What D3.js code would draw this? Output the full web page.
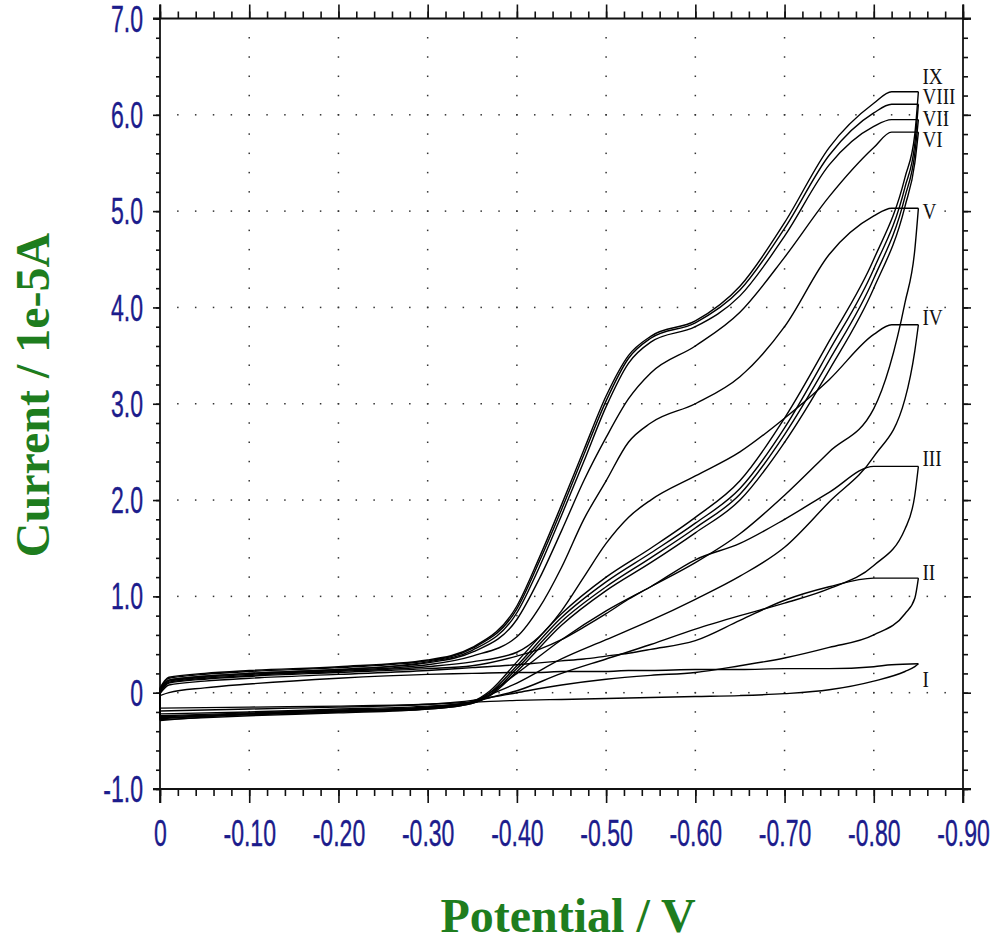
<!DOCTYPE html>
<html>
<head>
<meta charset="utf-8">
<script src="https://cdn.jsdelivr.net/npm/d3@7"></script>
<style>
  html, body { margin: 0; padding: 0; background: #fff; }
  svg { display: block; }
</style>
</head>
<body>
<div id="cvChart"></div>
<script>
// potentials (V) at which currents were read, forward and return sweep
const potentialFwd = [0, -0.01, -0.05, -0.10, -0.20, -0.30, -0.35, -0.40, -0.425, -0.45, -0.475, -0.50, -0.525, -0.55, -0.60, -0.65, -0.70, -0.75, -0.80, -0.82, -0.85];
const potentialRev = [-0.85, -0.846, -0.835, -0.80, -0.75, -0.70, -0.65, -0.60, -0.55, -0.50, -0.45, -0.40, -0.37, -0.35, -0.30, -0.20, -0.10, 0];

// currents (1e-5 A), forward sweep
const fwdI    = [-0.03, 0.00, 0.05, 0.09, 0.15, 0.19, 0.20, 0.21, 0.21, 0.22, 0.22, 0.22, 0.23, 0.23, 0.24, 0.24, 0.25, 0.25, 0.27, 0.29, 0.30];
const fwdII   = [-0.01, 0.08, 0.12, 0.15, 0.19, 0.23, 0.26, 0.29, 0.31, 0.33, 0.35, 0.38, 0.41, 0.45, 0.54, 0.75, 0.96, 1.10, 1.19, 1.19, 1.19];
const fwdIII  = [0.00, 0.10, 0.14, 0.17, 0.21, 0.25, 0.28, 0.38, 0.45, 0.55, 0.68, 0.82, 0.97, 1.10, 1.38, 1.55, 1.80, 2.08, 2.35, 2.35, 2.35];
const fwdIV   = [0.02, 0.11, 0.15, 0.18, 0.22, 0.27, 0.32, 0.42, 0.58, 0.85, 1.20, 1.55, 1.82, 2.00, 2.25, 2.50, 2.85, 3.25, 3.72, 3.82, 3.82];
const fwdV    = [0.02, 0.12, 0.16, 0.19, 0.23, 0.29, 0.38, 0.58, 0.88, 1.30, 1.80, 2.20, 2.60, 2.80, 3.00, 3.28, 3.80, 4.55, 4.95, 5.03, 5.03];
const fwdVI   = [0.03, 0.13, 0.17, 0.20, 0.24, 0.31, 0.42, 0.76, 1.18, 1.68, 2.20, 2.65, 3.05, 3.32, 3.60, 3.95, 4.52, 5.15, 5.66, 5.82, 5.82];
const fwdVII  = [0.03, 0.13, 0.17, 0.20, 0.24, 0.32, 0.44, 0.83, 1.30, 1.84, 2.40, 2.97, 3.42, 3.64, 3.80, 4.12, 4.74, 5.48, 5.88, 5.95, 5.95];
const fwdVIII = [0.04, 0.15, 0.19, 0.22, 0.26, 0.33, 0.46, 0.87, 1.36, 1.90, 2.47, 3.03, 3.47, 3.68, 3.84, 4.18, 4.82, 5.58, 6.02, 6.11, 6.11];
const fwdIX   = [0.05, 0.16, 0.20, 0.23, 0.27, 0.34, 0.47, 0.90, 1.40, 1.95, 2.52, 3.08, 3.50, 3.70, 3.86, 4.22, 4.88, 5.66, 6.12, 6.24, 6.24];

// currents (1e-5 A), return sweep
const revI    = [0.30, 0.27, 0.22, 0.12, 0.03, -0.01, -0.03, -0.04, -0.05, -0.06, -0.07, -0.08, -0.09, -0.10, -0.12, -0.14, -0.15, -0.16];
const revII   = [1.19, 0.98, 0.82, 0.60, 0.47, 0.36, 0.28, 0.21, 0.18, 0.14, 0.08, 0.00, -0.05, -0.08, -0.12, -0.15, -0.17, -0.19];
const revIII  = [2.35, 2.05, 1.70, 1.32, 1.08, 0.93, 0.80, 0.66, 0.50, 0.35, 0.20, 0.02, -0.05, -0.10, -0.14, -0.17, -0.20, -0.22];
const revIV   = [3.82, 3.55, 3.05, 2.45, 1.98, 1.51, 1.21, 0.97, 0.75, 0.55, 0.35, 0.10, -0.02, -0.10, -0.15, -0.18, -0.21, -0.24];
const revV    = [5.03, 4.60, 4.05, 2.95, 2.50, 2.05, 1.65, 1.35, 1.10, 0.85, 0.55, 0.20, 0.00, -0.10, -0.16, -0.20, -0.23, -0.26];
const revVI   = [5.82, 5.50, 5.05, 4.20, 3.35, 2.60, 2.00, 1.66, 1.35, 1.06, 0.70, 0.22, -0.03, -0.11, -0.17, -0.21, -0.24, -0.28];
const revVII  = [5.95, 5.60, 5.15, 4.30, 3.45, 2.68, 2.06, 1.71, 1.40, 1.10, 0.74, 0.25, -0.02, -0.11, -0.17, -0.20, -0.22, -0.27];
const revVIII = [6.11, 5.70, 5.25, 4.40, 3.55, 2.75, 2.12, 1.76, 1.45, 1.15, 0.78, 0.28, 0.00, -0.10, -0.16, -0.19, -0.22, -0.25];
const revIX   = [6.24, 5.80, 5.35, 4.50, 3.65, 2.85, 2.20, 1.82, 1.50, 1.20, 0.82, 0.32, 0.02, -0.09, -0.15, -0.19, -0.22, -0.29];

const cycleNames = ['I', 'II', 'III', 'IV', 'V', 'VI', 'VII', 'VIII', 'IX'];
const fwdCurrents = [fwdI, fwdII, fwdIII, fwdIV, fwdV, fwdVI, fwdVII, fwdVIII, fwdIX];
const revCurrents = [revI, revII, revIII, revIV, revV, revVI, revVII, revVIII, revIX];

const xTickValues = [0, -0.1, -0.2, -0.3, -0.4, -0.5, -0.6, -0.7, -0.8, -0.9];
const xTickLabels = ['0', '-0.10', '-0.20', '-0.30', '-0.40', '-0.50', '-0.60', '-0.70', '-0.80', '-0.90'];
const yTickValues = [-1, 0, 1, 2, 3, 4, 5, 6, 7];
const yTickLabels = ['-1.0', '0', '1.0', '2.0', '3.0', '4.0', '5.0', '6.0', '7.0'];

// label nudges (px) where the numerals would collide
const labelDy = { I: 23, II: 2, III: 0, IV: 0, V: 11, VI: 15, VII: 6, VIII: 0, IX: -8 };

const svgWidth = 999;
const svgHeight = 947;
const plotLeft = 160;
const plotRight = 963;
const plotTop = 18.5;
const plotBottom = 789;

const tickBlue = '#1c1c8c';
const titleGreen = '#1e7d1e';

const xScale = d3.scaleLinear().domain([0, -0.9]).range([plotLeft, plotRight]);
const yScale = d3.scaleLinear().domain([-1, 7]).range([plotBottom, plotTop]);

const xMinor = d3.range(0, 46).map(i => -i / 50);
const yMinor = d3.range(0, 41).map(i => -1 + i / 5);

const svg = d3.select('#cvChart').append('svg')
  .attr('width', svgWidth)
  .attr('height', svgHeight);

// dotted grid: dots at minor positions along each major line
const grid = svg.append('g').attr('fill', '#333');
xTickValues.slice(1, -1).forEach((xv) => {
  yMinor.slice(1, -1).forEach((yv) => {
    grid.append('rect')
      .attr('x', xScale(xv) - 0.75).attr('y', yScale(yv) - 0.75)
      .attr('width', 1.5).attr('height', 1.5);
  });
});
yTickValues.slice(1, -1).forEach((yv) => {
  xMinor.slice(1, -1).forEach((xv) => {
    grid.append('rect')
      .attr('x', xScale(xv) - 0.75).attr('y', yScale(yv) - 0.75)
      .attr('width', 1.5).attr('height', 1.5);
  });
});

// axes
const styleAxis = (g) => {
  g.select('.domain').remove();
  g.selectAll('line').attr('stroke', '#111').attr('stroke-width', 1.6);
};

svg.append('g').attr('transform', `translate(0,${plotBottom})`)
  .call(d3.axisBottom(xScale).tickValues(xMinor).tickSize(7).tickFormat(''))
  .call(styleAxis);
const xAxisG = svg.append('g').attr('transform', `translate(0,${plotBottom})`)
  .call(d3.axisBottom(xScale).tickValues(xTickValues).tickSize(14)
    .tickFormat((d, i) => xTickLabels[i]))
  .call(styleAxis);
svg.append('g').attr('transform', `translate(0,${plotTop})`)
  .call(d3.axisTop(xScale).tickValues(xMinor).tickSize(7).tickFormat(''))
  .call(styleAxis);
svg.append('g').attr('transform', `translate(0,${plotTop})`)
  .call(d3.axisTop(xScale).tickValues(xTickValues).tickSize(14).tickFormat(''))
  .call(styleAxis);

svg.append('g').attr('transform', `translate(${plotLeft},0)`)
  .call(d3.axisLeft(yScale).tickValues(yMinor).tickSize(4).tickFormat(''))
  .call(styleAxis);
const yAxisG = svg.append('g').attr('transform', `translate(${plotLeft},0)`)
  .call(d3.axisLeft(yScale).tickValues(yTickValues).tickSize(7)
    .tickFormat((d, i) => yTickLabels[i]))
  .call(styleAxis);
svg.append('g').attr('transform', `translate(${plotRight},0)`)
  .call(d3.axisRight(yScale).tickValues(yMinor).tickSize(5).tickFormat(''))
  .call(styleAxis);
svg.append('g').attr('transform', `translate(${plotRight},0)`)
  .call(d3.axisRight(yScale).tickValues(yTickValues).tickSize(8).tickFormat(''))
  .call(styleAxis);

const squeeze = 0.64;
const styleTickText = (sel) => sel
  .attr('transform', `scale(${squeeze},1)`)
  .style('font-family', '"Liberation Sans", Arial, sans-serif')
  .style('font-size', '36px')
  .attr('fill', tickBlue)
  .attr('stroke', tickBlue)
  .attr('stroke-width', 0.4);
xAxisG.selectAll('text')
  .attr('y', 57).attr('dy', null)
  .call(styleTickText);
yAxisG.selectAll('text')
  .attr('x', -17 / squeeze).attr('dy', '0.35em')
  .call(styleTickText);

// frame
const frame = svg.append('g').attr('stroke', '#111').attr('stroke-width', 1.8);
frame.append('line').attr('x1', plotLeft - 7).attr('x2', plotRight + 8).attr('y1', plotTop).attr('y2', plotTop);
frame.append('line').attr('x1', plotLeft - 7).attr('x2', plotRight + 8).attr('y1', plotBottom).attr('y2', plotBottom);
frame.append('line').attr('x1', plotLeft).attr('x2', plotLeft).attr('y1', plotTop - 14).attr('y2', plotBottom + 14);
frame.append('line').attr('x1', plotRight).attr('x2', plotRight).attr('y1', plotTop - 14).attr('y2', plotBottom + 14);

// voltammograms
const lineGen = d3.line().curve(d3.curveMonotoneX);
const plot = svg.append('g')
  .attr('fill', 'none')
  .attr('stroke', '#000')
  .attr('stroke-width', 1.4)
  .attr('stroke-linejoin', 'round');

cycleNames.forEach((name, k) => {
  const fwd = fwdCurrents[k];
  const rev = revCurrents[k];
  const upper = potentialFwd.map((e, i) => [xScale(e), yScale(fwd[i])]);
  const lower = potentialRev.map((e, i) => [xScale(e), yScale(rev[i])]).reverse();
  plot.append('path').attr('d', lineGen(upper));
  plot.append('path').attr('d', lineGen(lower));
  plot.append('path').attr('d', d3.line()([
    [xScale(0), yScale(rev[rev.length - 1])],
    [xScale(0), yScale(fwd[0])],
  ]));

  const peak = fwd[fwd.length - 1];
  svg.append('text')
    .attr('transform', `translate(${xScale(-0.85) + 4},${yScale(peak) + labelDy[name]}) scale(0.8,1)`)
    .style('font-family', '"Liberation Serif", "Times New Roman", serif')
    .style('font-size', '24px')
    .attr('fill', '#111')
    .text(name);
});

// titles
svg.append('text')
  .attr('x', 568).attr('y', 932)
  .attr('text-anchor', 'middle')
  .style('font-family', '"Liberation Serif", "Times New Roman", serif')
  .style('font-weight', 'bold')
  .style('font-size', '48px')
  .attr('fill', titleGreen)
  .text('Potential / V');

svg.append('text')
  .attr('transform', 'translate(49,395) rotate(-90)')
  .attr('text-anchor', 'middle')
  .style('font-family', '"Liberation Serif", "Times New Roman", serif')
  .style('font-weight', 'bold')
  .style('font-size', '48px')
  .attr('fill', titleGreen)
  .text('Current / 1e-5A');
</script>
</body>
</html>
